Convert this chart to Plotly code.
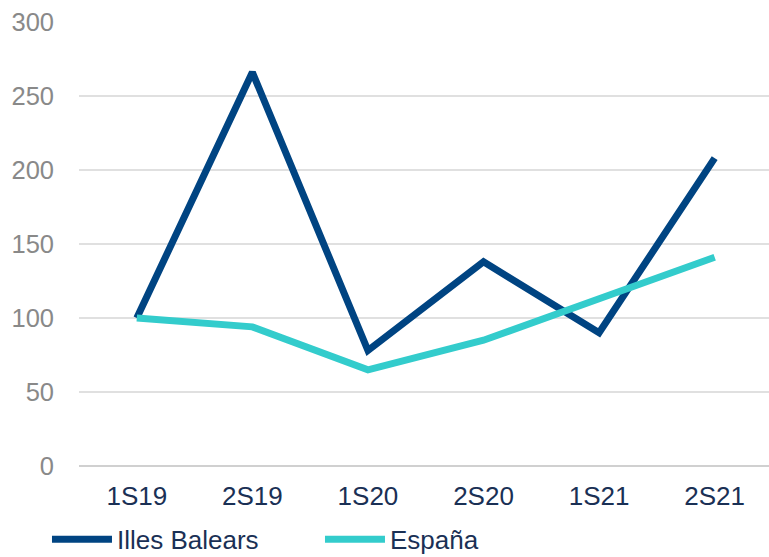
import plotly.graph_objects as go

categories = ["1S19", "2S19", "1S20", "2S20", "1S21", "2S21"]
illes_balears = [100, 266, 78, 138, 90, 208]
espana = [100, 94, 65, 85, 113, 141]
y_ticks = [0, 50, 100, 150, 200, 250, 300]

fig = go.Figure()
fig.add_trace(go.Scatter(x=categories, y=illes_balears, mode="lines", name="Illes Balears",
                         line=dict(color="#004482", width=7)))
fig.add_trace(go.Scatter(x=categories, y=espana, mode="lines", name="España",
                         line=dict(color="#33CCCC", width=7)))

fig.update_layout(
    width=769, height=557,
    margin=dict(l=79, r=0, t=22, b=91, autoexpand=False),
    plot_bgcolor="white", paper_bgcolor="white",
    font=dict(family="Liberation Sans, Arial, sans-serif", size=26, color="#1A3055"),
    showlegend=True,
    legend=dict(orientation="h", x=-0.0464, xanchor="left", y=-0.165, yanchor="middle",
                font=dict(size=26, color="#1A3055"), itemwidth=60, tracegroupgap=0,
                entrywidth=198, entrywidthmode="pixels",
                bgcolor="rgba(0,0,0,0)"),
    xaxis=dict(type="category", range=[-0.5, 5.47], showgrid=False, zeroline=False,
               showline=False, ticks="", tickfont=dict(size=26, color="#1A3055"),
               ticklabelstandoff=12),
    yaxis=dict(range=[0, 300], tickvals=y_ticks, showgrid=True, gridcolor="#E0E0E0",
               gridwidth=1.5, zeroline=True, zerolinecolor="#D0D0D0", zerolinewidth=1.5,
               showline=False, ticks="", tickfont=dict(size=25.5, color="#898989"),
               ticklabelstandoff=24),
)

fig.write_html("out.html")
